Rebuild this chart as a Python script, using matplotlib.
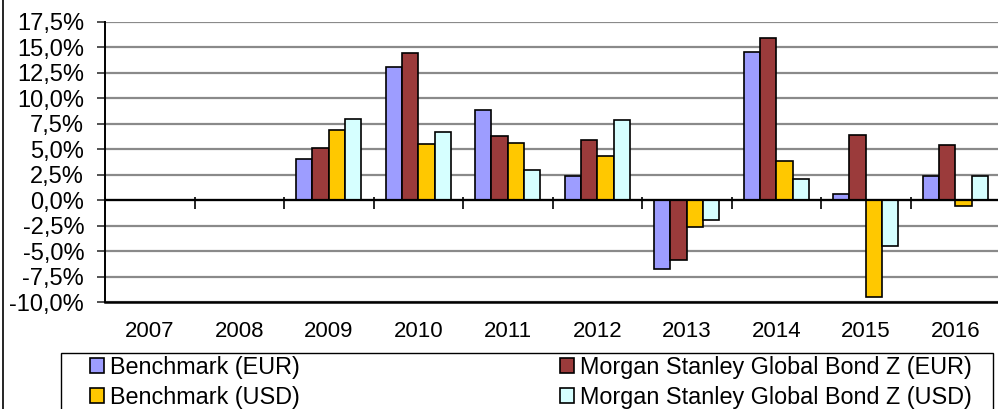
import numpy as np
import matplotlib
matplotlib.use("Agg")
import matplotlib.pyplot as plt
from matplotlib.ticker import FuncFormatter
from matplotlib.lines import Line2D
from matplotlib.patches import Rectangle

plt.rcParams['font.family'] = ['Liberation Sans', 'DejaVu Sans']

#######################################################
# Data (annual returns, %)
#######################################################
years = ['2007', '2008', '2009', '2010', '2011', '2012', '2013', '2014', '2015', '2016']
bench_eur = [np.nan, np.nan, 4.0, 13.1, 8.9, 2.4, -6.8, 14.6, 0.65, 2.4]
ms_eur = [np.nan, np.nan, 5.1, 14.5, 6.3, 5.9, -5.9, 15.9, 6.4, 5.4]
bench_usd = [np.nan, np.nan, 6.9, 5.5, 5.6, 4.3, -2.65, 3.8, -9.55, -0.55]
ms_usd = [np.nan, np.nan, 8.0, 6.7, 3.0, 7.85, -1.95, 2.05, -4.5, 2.35]

series = [
    ('Benchmark (EUR)', bench_eur, '#9D9DFF'),
    ('Morgan Stanley Global Bond Z (EUR)', ms_eur, '#9B3B3B'),
    ('Benchmark (USD)', bench_usd, '#FFC800'),
    ('Morgan Stanley Global Bond Z (USD)', ms_usd, '#D6FFFF'),
]

#######################################################
# Plot
#######################################################
W, H = 998, 409
fig = plt.figure(figsize=(W / 100, H / 100), dpi=100)
ax = fig.add_axes([105 / W, 1 - 302 / H, 895 / W, 280 / H])

x = np.arange(len(years))
width = 0.182
bars = []
for i, (label, vals, color) in enumerate(series):
    b = ax.bar(x + (i - 1.5) * width, vals, width, color=color, edgecolor='black',
               linewidth=1.2, label=label, zorder=3)
    bars.append(b)

ax.set_xlim(-0.5, len(years) - 0.5)
ax.set_ylim(-10, 17.5)
ax.set_yticks(np.arange(-10, 17.6, 2.5))
ax.yaxis.set_major_formatter(FuncFormatter(lambda v, p: ('%.1f%%' % v).replace('.', ',')))
ax.yaxis.grid(True, color='#8a8a8a', linewidth=1.6, zorder=0)
ax.set_axisbelow(True)

ax.set_xticks(x)
ax.set_xticklabels(years)
ax.tick_params(axis='x', length=0, pad=14, labelsize=16)
ax.tick_params(axis='y', length=6, width=1.2, pad=9, labelsize=17, color='#333333')

# zero line and category boundary ticks
ax.axhline(0, color='black', linewidth=1.6, zorder=4)
bounds = np.arange(len(years) + 1) - 0.5
ax.plot(bounds, np.zeros_like(bounds) - 0.25, linestyle='none', marker='|', markersize=8,
        markeredgewidth=1.2, color='black', zorder=4, clip_on=False)

for s in ['top', 'right']:
    ax.spines[s].set_visible(False)
ax.spines['left'].set_linewidth(1.4)
ax.spines['bottom'].set_linewidth(1.8)

# legend: row order EUR / USD, frame drawn separately
order = [0, 2, 1, 3]
handles = [bars[k] for k in order]
labels = [series[k][0] for k in order]
leg = fig.legend(handles, labels, ncol=2, loc='upper left', mode='expand',
                 bbox_to_anchor=(90 / W, 1 - 356 / H - 0.3, 882 / W, 0.3),
                 bbox_transform=fig.transFigure, borderaxespad=0, borderpad=0,
                 fontsize=16.8, frameon=False,
                 handlelength=0.6, handleheight=0.6, handletextpad=0.26,
                 labelspacing=0.28)

fig.add_artist(Rectangle((61 / W, -0.05), 932 / W, 1 - 353 / H + 0.05, fill=False,
                         edgecolor='black', linewidth=1.0, transform=fig.transFigure))

# outer left border
fig.add_artist(Line2D([0.003, 0.003], [0, 1], color='black', linewidth=1.2,
                      transform=fig.transFigure))

fig.savefig('out.png', dpi=100)
